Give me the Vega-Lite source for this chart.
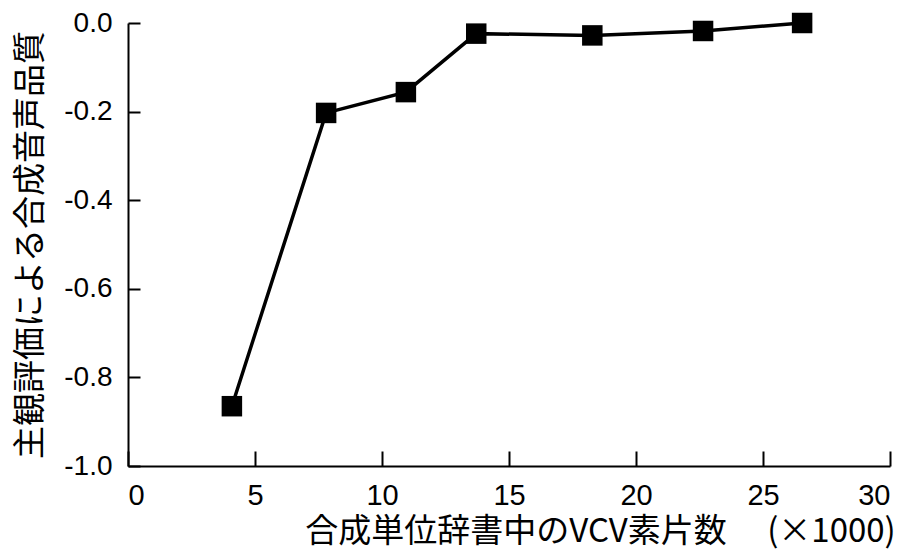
{
  "$schema": "https://vega.github.io/schema/vega-lite/v6.json",
  "autosize": "none",
  "width": 762,
  "height": 443,
  "padding": {"left": 128, "top": 23, "right": 28, "bottom": 84},
  "background": "white",
  "config": {
    "view": {"stroke": null},
    "axis": {
      "domainColor": "black",
      "domainWidth": 2,
      "tickColor": "black",
      "tickWidth": 2,
      "grid": false,
      "labelColor": "black",
      "titleColor": "black",
      "labelFont": "Liberation Sans, Arial, sans-serif",
      "titleFont": "Noto Sans CJK JP",
      "titleFontWeight": "normal"
    }
  },
  "data": {
    "values": [
      {"n": 4.09, "q": -0.865},
      {"n": 7.80, "q": -0.203},
      {"n": 10.94, "q": -0.156},
      {"n": 13.71, "q": -0.024},
      {"n": 18.28, "q": -0.028},
      {"n": 22.64, "q": -0.018},
      {"n": 26.54, "q": 0.0}
    ]
  },
  "layer": [
    {
      "mark": {"type": "line", "color": "black", "strokeWidth": 3.5},
      "encoding": {
        "x": {"field": "n", "type": "quantitative"},
        "y": {"field": "q", "type": "quantitative"}
      }
    },
    {
      "mark": {"type": "point", "shape": "square", "filled": true, "color": "black", "opacity": 1, "size": 420},
      "encoding": {
        "x": {
          "field": "n",
          "type": "quantitative",
          "scale": {"domain": [0, 30], "nice": false, "zero": false},
          "axis": {
            "values": [0, 5, 10, 15, 20, 25, 30],
            "tickSize": -15,
            "labelPadding": 30,
            "labelFontSize": 29,
            "title": "合成単位辞書中のVCV素片数　 (×1000)",
            "titleFontSize": 33,
            "titlePadding": 5,
            "titleX": 472,
            "titleAnchor": "middle",
            "titleAlign": "center"
          }
        },
        "y": {
          "field": "q",
          "type": "quantitative",
          "scale": {"domain": [-1, 0], "nice": false, "zero": false},
          "axis": {
            "values": [-1, -0.8, -0.6, -0.4, -0.2, 0],
            "tickSize": -12,
            "labelPadding": 28,
            "labelFontSize": 28,
            "labelExpr": "replace(format(datum.value, '.1f'), '−', '-')",
            "title": "主観評価による合成音声品質",
            "titleFontSize": 33,
            "titlePadding": 16
          }
        }
      }
    }
  ]
}
